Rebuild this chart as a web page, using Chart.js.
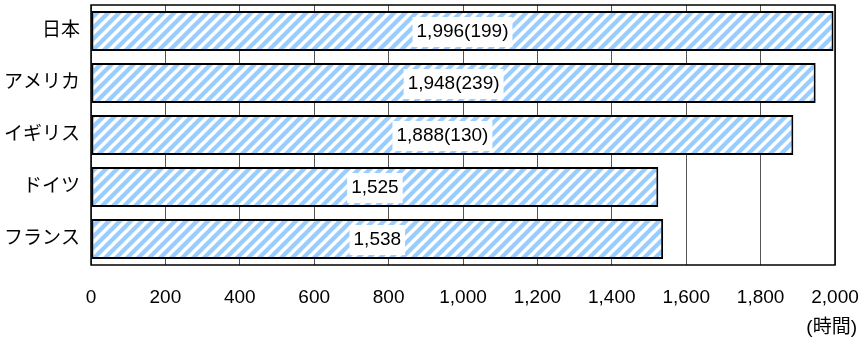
<!DOCTYPE html>
<html>
<head>
<meta charset="utf-8">
<script src="https://cdn.jsdelivr.net/npm/chart.js@4"></script>
<style>
  html, body { margin: 0; padding: 0; background: #fff; }
  #wrap { width: 864px; height: 341px; }
</style>
</head>
<body>
<div id="wrap"><canvas id="c" width="864" height="341"></canvas></div>
<script>
// Annual working hours by country (overtime hours in parentheses)
const countries = ['日本', 'アメリカ', 'イギリス', 'ドイツ', 'フランス'];
const hours = [1996, 1948, 1888, 1525, 1538];
const overtime = [199, 239, 130, null, null];
const xMin = 0;
const xMax = 2000;
const xStep = 200;
const unitLabel = '(時間)';

const FONT = '"Liberation Sans", Arial, "Noto Sans CJK JP", sans-serif';

// Diagonal light-blue hatch used to fill the bars
function makeHatch() {
  const p = 11;
  const tile = document.createElement('canvas');
  tile.width = p; tile.height = p;
  const g = tile.getContext('2d');
  g.fillStyle = '#ffffff';
  g.fillRect(0, 0, p, p);
  g.strokeStyle = '#99ccff';
  g.lineWidth = 4.2;
  for (let k = -1; k <= 1; k++) {
    // stroke past the tile edges so the stripes join seamlessly
    g.beginPath();
    g.moveTo(k * p - p, 2 * p);
    g.lineTo(k * p + 2 * p, -p);
    g.stroke();
  }
  return g.createPattern(tile, 'repeat');
}

const fmt = v => Number(v).toLocaleString('en-US');

// Value labels on white boxes at the middle of each bar
const valueLabels = {
  id: 'valueLabels',
  afterDatasetsDraw(chart) {
    const ctx = chart.ctx;
    const meta = chart.getDatasetMeta(0);
    ctx.save();
    ctx.font = '19px ' + FONT;
    ctx.textAlign = 'center';
    ctx.textBaseline = 'middle';
    meta.data.forEach((bar, i) => {
      const text = fmt(hours[i]) + (overtime[i] != null ? '(' + overtime[i] + ')' : '');
      const cx = (bar.x + bar.base) / 2;
      const cy = bar.y;
      const w = ctx.measureText(text).width;
      ctx.fillStyle = '#ffffff';
      ctx.fillRect(cx - w / 2 - 4, cy - 14, w + 8, 30);
      ctx.fillStyle = '#000000';
      ctx.fillText(text, cx, cy + 1);
    });
    ctx.restore();
  }
};

// Frame around the plot area and the unit caption
const frame = {
  id: 'frame',
  afterDraw(chart) {
    const { ctx, chartArea: a } = chart;
    ctx.save();
    ctx.strokeStyle = '#000000';
    ctx.lineWidth = 1.5;
    ctx.strokeRect(a.left, a.top, a.right - a.left, a.bottom - a.top);
    ctx.font = '19px ' + FONT;
    ctx.fillStyle = '#000000';
    ctx.textAlign = 'right';
    ctx.textBaseline = 'middle';
    ctx.fillText(unitLabel, 857, 328);
    ctx.restore();
  }
};

new Chart(document.getElementById('c'), {
  type: 'bar',
  data: {
    labels: countries,
    datasets: [{
      data: hours,
      backgroundColor: makeHatch(),
      borderColor: '#000000',
      borderWidth: 2,
      borderSkipped: false,
      barPercentage: 0.77,
      categoryPercentage: 1.0
    }]
  },
  options: {
    indexAxis: 'y',
    responsive: false,
    animation: false,
    devicePixelRatio: 1,
    layout: { padding: { left: 0, right: 29, top: 5, bottom: 0 } },
    plugins: {
      legend: { display: false },
      tooltip: { enabled: false }
    },
    scales: {
      x: {
        min: xMin,
        max: xMax,
        ticks: {
          stepSize: xStep,
          padding: 21,
          color: '#000000',
          font: { family: FONT, size: 19 },
          callback: v => fmt(v)
        },
        grid: { color: '#555555', lineWidth: 1, drawTicks: false },
        border: { display: false },
        afterFit(s) {
          s.height = 76;
          s.paddingLeft = 0; s.paddingRight = 0;
          s.paddingTop = 0; s.paddingBottom = 0;
        }
      },
      y: {
        ticks: {
          padding: 11,
          color: '#000000',
          font: { family: FONT, size: 19 }
        },
        grid: { display: false, drawTicks: false },
        border: { display: false },
        afterFit(s) {
          s.width = 91;
          s.paddingLeft = 0; s.paddingRight = 0;
          s.paddingTop = 0; s.paddingBottom = 0;
        }
      }
    }
  },
  plugins: [valueLabels, frame]
});
</script>
</body>
</html>
